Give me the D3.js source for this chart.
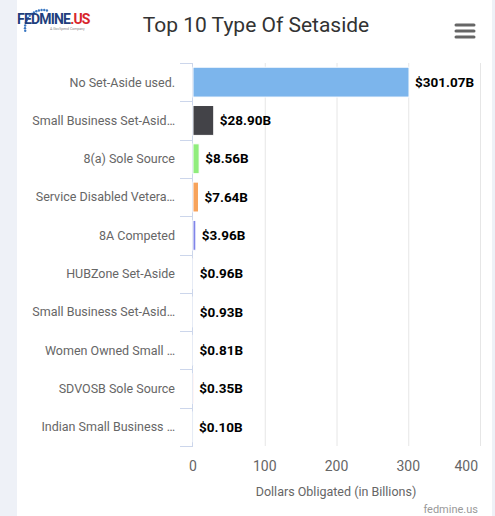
<!DOCTYPE html>
<html><head><meta charset="utf-8">
<script src="https://cdn.jsdelivr.net/npm/d3@7"></script>
<style>
html,body{margin:0;padding:0;background:#fff;}
svg{display:block;font-family:Roboto,"Noto Sans",sans-serif;}
</style></head>
<body>
<script>
const categories = ["No Set-Aside used.","Small Business Set-Asid…","8(a) Sole Source","Service Disabled Vetera…","8A Competed","HUBZone Set-Aside","Small Business Set-Asid…","Women Owned Small …","SDVOSB Sole Source","Indian Small Business …"];
const values = [301.07, 28.90, 8.56, 7.64, 3.96, 0.96, 0.93, 0.81, 0.35, 0.10];
const valueLabels = ["$301.07B","$28.90B","$8.56B","$7.64B","$3.96B","$0.96B","$0.93B","$0.81B","$0.35B","$0.10B"];
const xTicks = [0,100,200,300,400];
const colors = ["#7cb5ec","#434348","#90ed7d","#f7a35c","#8085e9","#f15c80","#e4d354","#2b908f","#f45b5b","#91e8e1"];
const chartTitle = "Top 10 Type Of Setaside";
const xTitle = "Dollars Obligated (in Billions)";

(function(){
const W = 495, H = 516;
const svg = d3.select("body").append("svg").attr("width", W).attr("height", H);

svg.append("rect").attr("x",0).attr("y",0).attr("width",W).attr("height",H).attr("fill","#eef1f7");
svg.append("rect").attr("x",17).attr("y",0).attr("width",475).attr("height",H).attr("fill","#fff");

const pl = 193, pr = 480, pt = 63, pb = 446;
const x = d3.scaleLinear().domain([0,400]).range([pl,pr]);
const y = d3.scaleBand().domain(d3.range(categories.length)).range([pt,pb]).paddingInner(0.22).paddingOuter(0.11);
const yb = d3.scaleBand().domain(d3.range(categories.length)).range([pt,pb]);

svg.append("g").selectAll("line").data(xTicks.slice(1)).join("line")
  .attr("x1",d=>x(d)+0.5).attr("x2",d=>x(d)+0.5).attr("y1",pt).attr("y2",pb)
  .attr("stroke","#e6e6e6").attr("stroke-width",1);

svg.append("line").attr("x1",pl-0.5).attr("x2",pl-0.5).attr("y1",pt).attr("y2",pb+1).attr("stroke","#ccd6eb");
const tickYs = d3.range(categories.length+1).map(i => pt + i*yb.bandwidth());
svg.append("g").selectAll("line").data(tickYs).join("line")
  .attr("x1",pl-13).attr("x2",pl).attr("y1",d=>Math.round(d)+0.5).attr("y2",d=>Math.round(d)+0.5)
  .attr("stroke","#ccd6eb");

svg.append("g").selectAll("rect").data(values).join("rect")
  .attr("x",pl).attr("y",(d,i)=>y(i)).attr("width",d=>Math.max(0,x(d)-pl)).attr("height",y.bandwidth())
  .attr("fill",(d,i)=>colors[i]).attr("stroke","#fff").attr("stroke-width",1);

svg.append("g").selectAll("text").data(values).join("text")
  .attr("x",d=>x(d)+6).attr("y",(d,i)=>y(i)+y.bandwidth()/2).attr("dy","0.35em")
  .attr("font-size",13.5).attr("font-weight","bold").attr("fill","#000")
  .text((d,i)=>valueLabels[i]);

svg.append("g").selectAll("text").data(categories).join("text")
  .attr("x",175).attr("y",(d,i)=>yb(i)+yb.bandwidth()/2).attr("dy","0.35em")
  .attr("text-anchor","end").attr("font-size",12.5).attr("fill","#666")
  .text(d=>d);

svg.append("g").selectAll("text").data(xTicks).join("text")
  .attr("x",(d,i)=> i===xTicks.length-1 ? x(d)-2 : x(d)).attr("y",471)
  .attr("text-anchor",(d,i)=> i===xTicks.length-1 ? "end" : "middle")
  .attr("font-size",14).attr("fill","#666").text(d=>d);

svg.append("text").attr("x",336).attr("y",496).attr("text-anchor","middle")
  .attr("font-size",12.5).attr("fill","#666").text(xTitle);

svg.append("text").attr("x",478).attr("y",513).attr("text-anchor","end")
  .attr("font-size",11).attr("fill","#999").text("fedmine.us");

svg.append("text").attr("x",256).attr("y",32).attr("text-anchor","middle")
  .attr("font-size",21).attr("fill","#333").text(chartTitle);

const mg = svg.append("g").attr("stroke","#666").attr("stroke-width",3).attr("stroke-linecap","round");
[25,31,37].forEach(yy => mg.append("line").attr("x1",456).attr("x2",474).attr("y1",yy).attr("y2",yy));

const logo = svg.append("g");
const arcPts = d3.range(0, 14).map(i => {
  const a = Math.PI*0.95 + i*(Math.PI*0.62/13);
  return [43 + 18*Math.cos(a), 28 + 18*Math.sin(a)];
});
logo.selectAll("circle").data(arcPts).join("circle")
  .attr("cx",d=>d[0]).attr("cy",d=>d[1]).attr("r",1.2).attr("fill","#3a78c3");
const lt = logo.append("text").attr("x",17).attr("y",24).attr("font-size",14).attr("font-weight","bold")
  .attr("letter-spacing","-0.8").attr("font-family","'Liberation Sans Narrow','Roboto',sans-serif");
lt.append("tspan").attr("fill","#1f3f7d").text("FEDMINE");
lt.append("tspan").attr("fill","#d8262c").text(".US");
logo.append("text").attr("x",50).attr("y",30).attr("font-size",3.5).attr("fill","#888").text("A GovSpend Company");
})();
</script>
</body></html>
